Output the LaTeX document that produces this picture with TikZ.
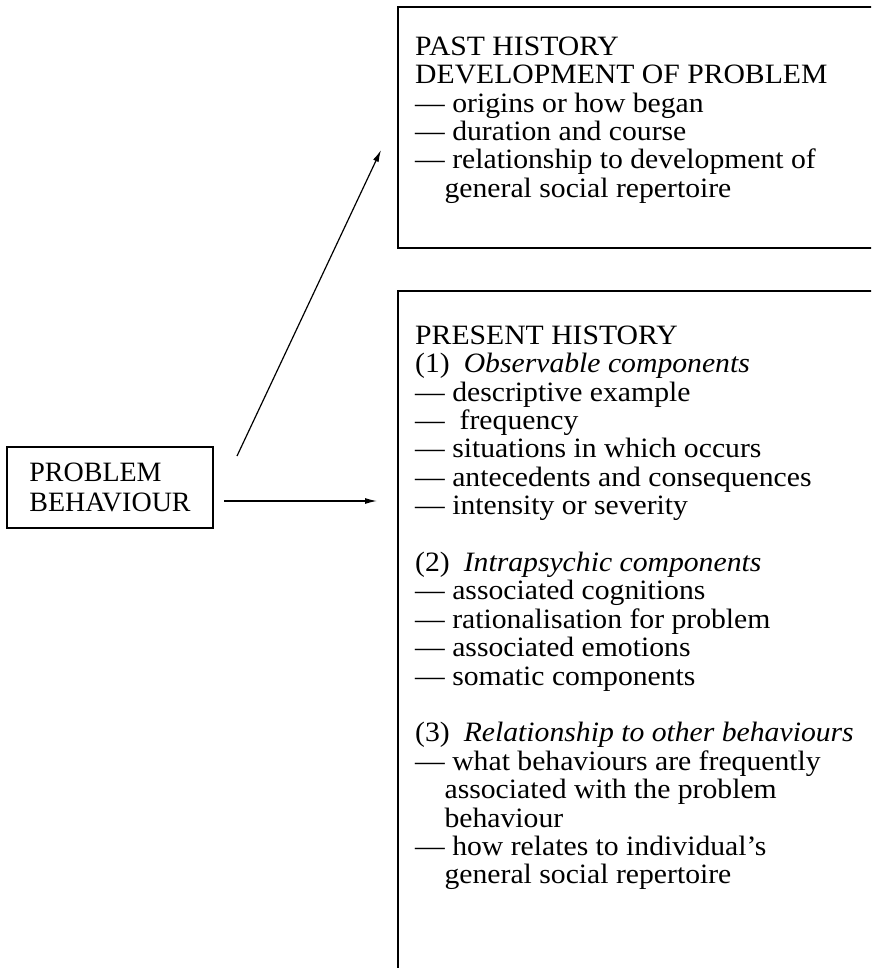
\documentclass[tikz,border=0pt]{standalone}
\usepackage{fontspec}
\setmainfont{Liberation Serif}[Ligatures=TeX]
\newfontfamily\listfont{Liberation Serif}[Ligatures=TeX,FakeStretch=1.06]
\usetikzlibrary{arrows.meta}

\tikzset{
  frame/.style={line width=1.4pt},
  conn/.style={line width=1.2pt,-{Latex[length=12pt,width=6pt]}},
  listtext/.style={anchor=north west,inner sep=0pt,align=left,
    font=\listfont\fontsize{28}{28.4}\selectfont},
}
\newcommand{\dsh}{—\ }
\newcommand{\cont}{\hspace*{1.05em}}

\begin{document}
\begin{tikzpicture}[x=1pt,y=-1pt]
\useasboundingbox (0,0) rectangle (871,968);
\clip (0,0) rectangle (871,968);

% problem box
\node[draw,frame,align=left,minimum width=206pt,minimum height=81pt,
  font=\fontsize{28}{29.5}\selectfont] (prob) at (110,487.5)
  {PROBLEM\\BEHAVIOUR};

% the two history boxes (cut at the page edge)
\draw[frame] (398,7) rectangle (900,248);
\draw[frame] (398,291) rectangle (900,1000);

\node[listtext] (past) at (415,36.5) {PAST HISTORY\\
  DEVELOPMENT OF PROBLEM\\
  \dsh origins or how began\\
  \dsh duration and course\\
  \dsh relationship to development of\\
  \cont general social repertoire};

\node[listtext] (present) at (415,325.5) {PRESENT HISTORY\\
  (1)\enspace\textit{Observable components}\\
  \dsh descriptive example\\
  \dsh\ frequency\\
  \dsh situations in which occurs\\
  \dsh antecedents and consequences\\
  \dsh intensity or severity\\[28.4pt]
  (2)\enspace\textit{Intrapsychic components}\\
  \dsh associated cognitions\\
  \dsh rationalisation for problem\\
  \dsh associated emotions\\
  \dsh somatic components\\[28.4pt]
  (3)\enspace\textit{Relationship to other behaviours}\\
  \dsh what behaviours are frequently\\
  \cont associated with the problem\\
  \cont behaviour\\
  \dsh how relates to individual’s\\
  \cont general social repertoire};

% connectors
\coordinate (up0) at (237,456);
\coordinate (up1) at (381,150);
\coordinate (mid0) at (224,501);
\coordinate (mid1) at (377,501);
\draw[conn] (up0) -- (up1);
\draw[conn] (mid0) -- (mid1);
\end{tikzpicture}
\end{document}
